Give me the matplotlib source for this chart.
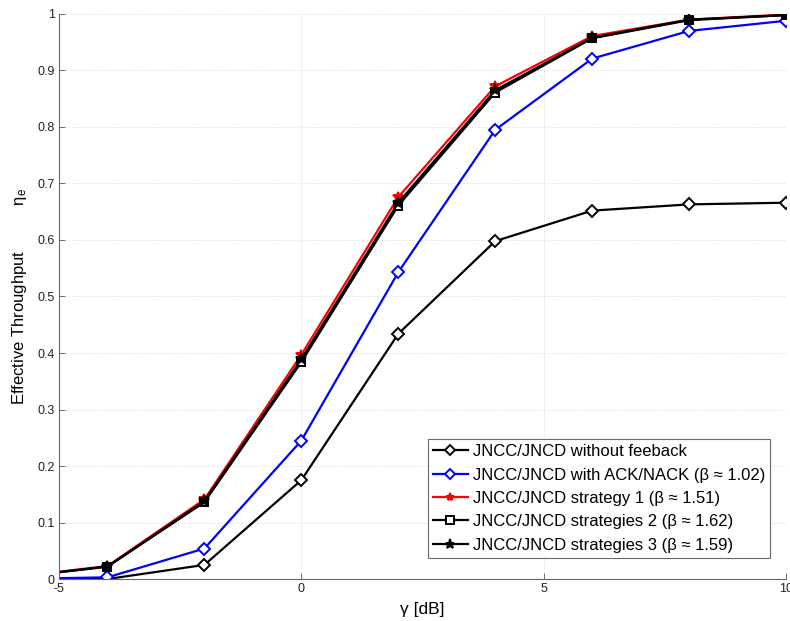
import matplotlib
matplotlib.use("Agg")
import matplotlib.pyplot as plt

plt.rcParams['font.family'] = ['Liberation Sans', 'DejaVu Sans']

gamma_db = [-6, -4, -2, 0, 2, 4, 6, 8, 10]
no_feedback = [0.0, 0.0, 0.025, 0.175, 0.434, 0.598, 0.652, 0.663, 0.666]
ack_nack = [0.0, 0.003, 0.054, 0.245, 0.543, 0.795, 0.921, 0.970, 0.988]
strategy1 = [0.003, 0.023, 0.141, 0.397, 0.676, 0.872, 0.961, 0.990, 0.999]
strategy2 = [0.002, 0.022, 0.136, 0.384, 0.661, 0.861, 0.957, 0.989, 0.998]
strategy3 = [0.002, 0.022, 0.138, 0.389, 0.666, 0.865, 0.958, 0.990, 0.998]
labels = ['JNCC/JNCD without feeback',
          'JNCC/JNCD with ACK/NACK (β ≈ 1.02)',
          'JNCC/JNCD strategy 1 (β ≈ 1.51)',
          'JNCC/JNCD strategies 2 (β ≈ 1.62)',
          'JNCC/JNCD strategies 3 (β ≈ 1.59)']

fig = plt.figure(figsize=(7.9, 6.21), dpi=100)
ax = fig.add_axes([0.0747, 0.0676, 0.9203, 0.9099])

lw = 1.6
ax.plot(gamma_db, no_feedback, color='black', lw=lw, marker='D', ms=6,
        mfc='white', mec='black', mew=1.4, label=labels[0])
ax.plot(gamma_db, ack_nack, color='blue', lw=lw, marker='D', ms=6,
        mfc='white', mec='blue', mew=1.4, label=labels[1])
ax.plot(gamma_db, strategy1, color='red', lw=lw, marker='*', ms=7,
        mfc='red', mec='red', mew=1.4, label=labels[2])
ax.plot(gamma_db, strategy2, color='black', lw=lw, marker='s', ms=6,
        mfc='white', mec='black', mew=1.4, label=labels[3])
ax.plot(gamma_db, strategy3, color='black', lw=lw, marker='*', ms=8,
        mfc='black', mec='black', mew=1.4, label=labels[4])

ax.set_xlim(-5, 10)
ax.set_ylim(0, 1)
ax.set_xticks([-5, 0, 5, 10])
ax.set_xticklabels(['-5', '0', '5', '10'])
ax.set_yticks([i / 10 for i in range(11)])
ax.set_yticklabels(['0'] + ['0.%d' % i for i in range(1, 10)] + ['1'])
ax.tick_params(direction='in', length=4, width=0.6, colors='#555555',
               labelcolor='#222222', labelsize=9, pad=3)
ax.grid(True, linestyle=(0, (1, 2)), color='#cccccc', lw=0.6)
for s in ['top', 'right']:
    ax.spines[s].set_visible(False)
for s in ['left', 'bottom']:
    ax.spines[s].set_color('#666666')
    ax.spines[s].set_linewidth(0.8)

ax.set_xlabel('γ [dB]', fontsize=12.5, labelpad=5)
ax.set_ylabel('Effective Throughput          $\\mathregular{\\eta_e}$',
              fontsize=12, labelpad=6)

leg = ax.legend(loc='lower right', bbox_to_anchor=(0.978, 0.038), fontsize=12,
                frameon=True, fancybox=False, edgecolor='#444444',
                handlelength=2.1, handletextpad=0.3, borderpad=0.3,
                labelspacing=0.5, borderaxespad=0, markerscale=0.85)
leg.get_frame().set_linewidth(0.8)

fig.savefig('out.png', dpi=100)
